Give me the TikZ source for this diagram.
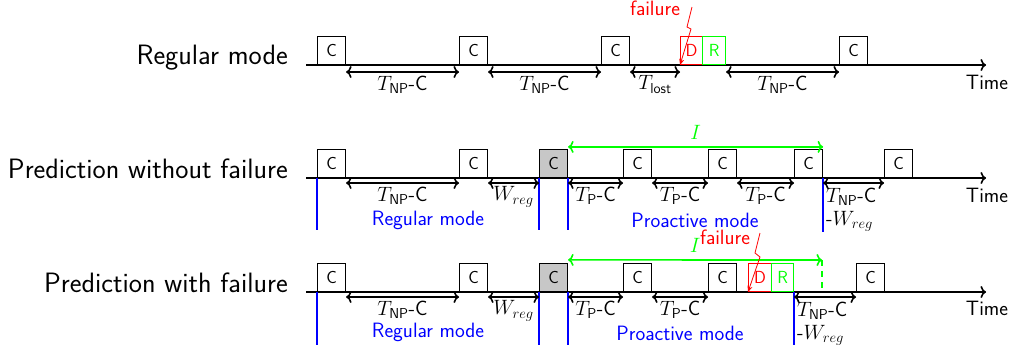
\documentclass[tikz,border=0pt]{standalone}
\usetikzlibrary{arrows.meta,calc}
\begin{document}
\begin{tikzpicture}[x=1pt,y=-1pt,font=\sffamily,
  rowlab/.style={anchor=base east,inner sep=0pt,font=\sffamily\fontsize{28}{32}\selectfont},
  lab/.style={font=\sffamily\fontsize{20.74}{23}\selectfont,inner sep=1pt},
  box/.style={draw,line width=1.1pt,minimum width=28pt,minimum height=28pt,inner sep=0pt,anchor=south west,font=\sffamily\fontsize{17.5}{19}\selectfont},
  gbox/.style={box,fill=black!22},
  axisline/.style={line width=1.6pt,-{Computer Modern Rightarrow[length=5.5pt,width=12pt]}},
  dbl/.style={line width=1.6pt,{Computer Modern Rightarrow[length=5.5pt,width=12pt]}-{Computer Modern Rightarrow[length=5.5pt,width=12pt]}},
  iarrow/.style={green,line width=1.6pt,{Computer Modern Rightarrow[length=5.5pt,width=12pt]}-{Computer Modern Rightarrow[length=5.5pt,width=12pt]}},
  modeline/.style={blue,line width=1.6pt},
  bolt/.style={red,line width=0.8pt,-{Stealth[length=6pt,width=5pt]}},
  modelab/.style={lab,blue},
  faillab/.style={lab,red}
]
\useasboundingbox (0,0) rectangle (1013,354);

% ---------------- Row 1: Regular mode ----------------
\node[rowlab] (row1) at (288,64) {Regular mode};
\coordinate (a1s) at (306,65);
\coordinate (a1e) at (986,65);
\draw[axisline] (a1s) -- (a1e);
\node[lab] (time1) at (987,82) {Time};
\node[box] (c11) at (317,65) {C};
\node[box] (c12) at (459,65) {C};
\node[box] (c13) at (601,65) {C};
\node[box,red,minimum width=22pt] (d1) at (680,65) {D};
\node[box,green,minimum width=23pt] (rr1) at (702,65) {R};
\node[box] (c14) at (839,65) {C};
\draw[dbl] ([yshift=-7pt]c11.south east) -- ([yshift=-7pt]c12.south west) node[midway,below=2pt,lab] {$T_{\mathsf{NP}}$-C};
\draw[dbl] ([yshift=-7pt]c12.south east) -- ([yshift=-7pt]c13.south west) node[midway,below=2pt,lab] {$T_{\mathsf{NP}}$-C};
\draw[dbl] ([yshift=-7pt]c13.south east) -- ([yshift=-7pt]d1.south west) node[midway,below=2pt,lab] {$T_{\mathsf{lost}}$};
\draw[dbl] ([yshift=-7pt]rr1.south east) -- ([yshift=-7pt]c14.south west) node[midway,below=2pt,lab] {$T_{\mathsf{NP}}$-C};
\node[faillab] (f1) at (655,8) {failure};
\coordinate (b1s) at (692,7);
\draw[bolt] (b1s) -- (687,27) -- (691,29) -- (d1.south west);

% ---------------- Row 2: Prediction without failure ----------------
\node[rowlab] (row2) at (288,178) {Prediction without failure};
\coordinate (a2s) at (306,178);
\coordinate (a2e) at (986,178);
\draw[axisline] (a2s) -- (a2e);
\node[lab] (time2) at (987,195) {Time};
\node[box] (c21) at (317,178) {C};
\node[box] (c22) at (459,178) {C};
\node[gbox] (g2) at (539,178) {C};
\node[box] (c24) at (623,178) {C};
\node[box] (c25) at (708,178) {C};
\node[box] (c26) at (794,178) {C};
\node[box] (c27) at (884,178) {C};
\draw[modeline] (c21.south west) -- ++(0,52);
\draw[modeline] (g2.south west) -- ++(0,52);
\draw[modeline] (g2.south east) -- ++(0,52);
\draw[modeline] (c26.south east) -- ++(0,54);
\draw[iarrow] ([yshift=2pt]g2.north east) -- ([yshift=2pt]c26.north east) node[midway,above=6pt,lab,green] {$I$};
\draw[dbl] ([yshift=-5pt]c21.south east) -- ([yshift=-5pt]c22.south west) node[midway,below=2pt,lab] {$T_{\mathsf{NP}}$-C};
\draw[dbl] ([yshift=-5pt]c22.south east) -- ([yshift=-5pt]g2.south west) node[midway,below=2pt,lab] {$W_{reg}$};
\draw[dbl] ([yshift=-5pt]g2.south east) -- ([yshift=-5pt]c24.south west) node[midway,below=2pt,lab] {$T_{\mathsf{P}}$-C};
\draw[dbl] ([yshift=-5pt]c24.south east) -- ([yshift=-5pt]c25.south west) node[midway,below=2pt,lab] {$T_{\mathsf{P}}$-C};
\draw[dbl] ([yshift=-5pt]c25.south east) -- ([yshift=-5pt]c26.south west) node[midway,below=2pt,lab] {$T_{\mathsf{P}}$-C};
\draw[dbl] ([yshift=-5pt]c26.south east) -- ([yshift=-5pt]c27.south west);
\node[lab,anchor=north west,align=left] (l26) at (825,187) {$T_{\mathsf{NP}}$-C\\-$W_{reg}$};
\node[modelab] (m21) at (428,220) {Regular mode};
\node[modelab] (m22) at (695,220) {Proactive mode};

% ---------------- Row 3: Prediction with failure ----------------
\node[rowlab] (row3) at (288,292) {Prediction with failure};
\coordinate (a3s) at (306,292);
\coordinate (a3e) at (986,292);
\draw[axisline] (a3s) -- (a3e);
\node[lab] (time3) at (987,308) {Time};
\node[box] (c31) at (317,292) {C};
\node[box] (c32) at (459,292) {C};
\node[gbox] (g3) at (539,292) {C};
\node[box] (c34) at (623,292) {C};
\node[box] (c35) at (708,292) {C};
\node[box,red,minimum width=23pt] (d3) at (748,292) {D};
\node[box,green,minimum width=22pt] (rr3) at (771,292) {R};
\node[box] (c37) at (856,292) {C};
\draw[modeline] (c31.south west) -- ++(0,53);
\draw[modeline] (g3.south west) -- ++(0,53);
\draw[modeline] (g3.south east) -- ++(0,53);
\draw[modeline] (rr3.south east) -- ++(0,53);
\coordinate (i3e) at (822,260);
\coordinate (i3b) at (822,292);
\draw[iarrow] ([yshift=3pt]g3.north east) -- (i3e) node[midway,above=6pt,lab,green] {$I$};
\draw[green,line width=1.4pt,dash pattern=on 6pt off 5pt] (i3e) -- (i3b);
\draw[dbl] ([yshift=-5pt]c31.south east) -- ([yshift=-5pt]c32.south west) node[midway,below=2pt,lab] {$T_{\mathsf{NP}}$-C};
\draw[dbl] ([yshift=-5pt]c32.south east) -- ([yshift=-5pt]g3.south west) node[midway,below=2pt,lab] {$W_{reg}$};
\draw[dbl] ([yshift=-5pt]g3.south east) -- ([yshift=-5pt]c34.south west) node[midway,below=2pt,lab] {$T_{\mathsf{P}}$-C};
\draw[dbl] ([yshift=-5pt]c34.south east) -- ([yshift=-5pt]c35.south west) node[midway,below=2pt,lab] {$T_{\mathsf{P}}$-C};
\draw[dbl] ([yshift=-5pt]rr3.south east) -- ([yshift=-5pt]c37.south west);
\node[lab,anchor=north west,align=left] (l36) at (796,301) {$T_{\mathsf{NP}}$-C\\-$W_{reg}$};
\node[modelab] (m31) at (428,332) {Regular mode};
\node[modelab] (m32) at (680,333) {Proactive mode};
\node[faillab] (f3) at (725,237) {failure};
\coordinate (b3s) at (760,233);
\draw[bolt] (b3s) -- (755,253) -- (760,257) -- (d3.south west);
\end{tikzpicture}
\end{document}
